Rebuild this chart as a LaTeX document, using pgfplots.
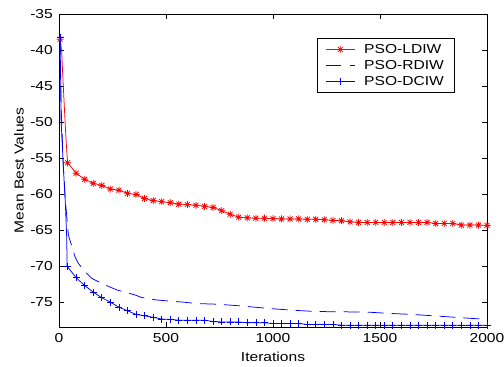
\documentclass[border=0pt]{standalone}
\usepackage{fontspec}
\setmainfont{Liberation Sans}[FakeStretch=1.2]
\usepackage{pgfplots}
\usepackage{pgfplotstable}
\pgfplotsset{compat=1.18}
\pgfdeclareplotmark{mstar}{%
  \pgfpathmoveto{\pgfqpoint{-\pgfplotmarksize}{0pt}}\pgfpathlineto{\pgfqpoint{\pgfplotmarksize}{0pt}}%
  \pgfpathmoveto{\pgfqpoint{0pt}{-\pgfplotmarksize}}\pgfpathlineto{\pgfqpoint{0pt}{\pgfplotmarksize}}%
  \pgfpathmoveto{\pgfqpoint{-0.707\pgfplotmarksize}{-0.707\pgfplotmarksize}}\pgfpathlineto{\pgfqpoint{0.707\pgfplotmarksize}{0.707\pgfplotmarksize}}%
  \pgfpathmoveto{\pgfqpoint{-0.707\pgfplotmarksize}{0.707\pgfplotmarksize}}\pgfpathlineto{\pgfqpoint{0.707\pgfplotmarksize}{-0.707\pgfplotmarksize}}%
  \pgfusepathqstroke}
\pgfplotstableread{
it val
40 -55.65
80 -57.1
120 -57.95
160 -58.5
200 -58.8
240 -59.3
280 -59.45
320 -59.9
360 -60.05
400 -60.6
440 -60.9
480 -61.05
520 -61.2
560 -61.4
600 -61.45
640 -61.55
680 -61.7
720 -61.85
760 -62.3
800 -62.8
840 -63.2
880 -63.3
920 -63.35
960 -63.35
1000 -63.4
1040 -63.45
1080 -63.45
1120 -63.45
1160 -63.5
1200 -63.5
1240 -63.55
1280 -63.65
1320 -63.7
1360 -63.85
1400 -63.93
1440 -63.93
1480 -63.93
1520 -63.93
1560 -63.93
1600 -63.93
1640 -63.93
1680 -63.93
1720 -63.93
1760 -64.07
1800 -64.07
1840 -64.07
1880 -64.3
1920 -64.3
1960 -64.3
2000 -64.35
}\ldiw
\pgfplotstableread{
it val
40 -70.1
80 -71.6
120 -72.7
160 -73.6
200 -74.4
240 -75.0
280 -75.7
320 -76.2
360 -76.7
400 -76.9
440 -77.1
480 -77.35
520 -77.4
560 -77.5
600 -77.5
640 -77.5
680 -77.5
720 -77.7
760 -77.75
800 -77.75
840 -77.75
880 -77.87
920 -77.87
960 -77.87
1000 -77.96
1040 -77.96
1080 -77.96
1120 -77.96
1160 -78.1
1200 -78.1
1240 -78.1
1280 -78.1
1320 -78.2
1360 -78.2
1400 -78.2
1440 -78.2
1480 -78.2
1520 -78.2
1560 -78.2
1600 -78.2
1640 -78.2
1680 -78.2
1720 -78.2
1760 -78.2
1800 -78.2
1840 -78.2
1880 -78.2
1920 -78.2
1960 -78.2
2000 -78.2
}\dciw
\pgfplotstableread{
it val
5 -38.3
10 -48
20 -56
30 -61
44 -65.7
75 -68.7
90 -69.6
129 -71.0
153 -71.7
200 -72.4
238 -72.9
270 -73.3
355 -74.0
386 -74.35
457 -74.7
495 -74.8
580 -75.0
650 -75.2
750 -75.3
860 -75.55
970 -75.85
1080 -76.1
1200 -76.3
1350 -76.35
1450 -76.4
1550 -76.57
1650 -76.7
1750 -76.9
1850 -77.1
1950 -77.3
2000 -77.36
}\rdiw
\begin{document}
\begin{tikzpicture}
\begin{axis}[
  name=ax, scale only axis, width=428bp, height=313bp,
  xmin=0, xmax=2000, ymin=-78.45, ymax=-35,
  clip=false,
  font=\fontsize{13bp}{15bp}\selectfont,
  tick align=inside, major tick length=5bp,
  tick style={black, line width=0.75bp},
  axis line style={black, line width=0.75bp},
  xtick={0,500,1000,1500,2000}, xticklabels={0,500,1000,1500,2000},
  ytick={-75,-70,-65,-60,-55,-50,-45,-40,-35},
  yticklabels={-75,-70,-65,-60,-55,-50,-45,-40,-35},
  xticklabel style={inner sep=0pt, anchor=north, yshift=-6bp},
  yticklabel style={inner sep=0pt, anchor=east, xshift=-6bp},
  xlabel={Iterations}, ylabel={Mean Best Values},
  xlabel style={at={(axis description cs:0.5,-0.096)}, anchor=center, inner sep=0pt},
  ylabel style={at={(axis description cs:-0.0935,0.5)}, anchor=center, inner sep=0pt},
  legend image code/.code={\draw[mark repeat=2,mark phase=2,#1] plot coordinates {(0bp,0bp)(14.5bp,0bp)(29bp,0bp)};},
  legend style={at={(axis description cs:0.603,0.923)}, anchor=north west,
    draw=black, line width=0.75bp, inner xsep=8bp, inner ysep=3bp,
    font=\fontsize{13bp}{15bp}\selectfont,
    nodes={inner sep=0pt, minimum height=16bp},
    /tikz/every odd column/.append style={column sep=9bp}},
  legend cell align=left,
]
% LDIW
\addplot[red, line width=0.75bp, forget plot] coordinates {(5,-38.5)(12,-40)(20,-45)(28,-49.7)(33,-52.5)(40,-55.65)};
\addplot[red, line width=0.75bp, forget plot] table[x=it,y=val]{\ldiw};
\addplot[red, line width=0.75bp, only marks, mark=mstar, mark size=3.5bp, forget plot] table[x=it,y=val]{\ldiw};
\addplot[red, line width=0.75bp, only marks, mark=mstar, mark size=3.5bp, forget plot] coordinates {(5,-38.5)};
% RDIW
\addplot[blue, line width=0.75bp, dash pattern=on 16bp off 8bp, forget plot] table[x=it,y=val]{\rdiw};
% DCIW
\addplot[blue, line width=0.75bp, forget plot] coordinates {(5,-38.2)(8,-45)(10,-50)(20,-56)(30,-61.5)(36,-66)(38,-70.1)(40,-70.1)};
\addplot[blue, line width=0.75bp, forget plot] table[x=it,y=val]{\dciw};
\addplot[blue, line width=0.75bp, only marks, mark=+, mark size=3.5bp, forget plot] table[x=it,y=val]{\dciw};
\addplot[blue, line width=0.75bp, only marks, mark=+, mark size=3.5bp, forget plot] coordinates {(5,-38.2)};
\addlegendimage{red, line width=0.75bp, mark=mstar, mark size=3.5bp}
\addlegendentry[text width=82bp, align=left]{PSO-LDIW}
\addlegendimage{blue, line width=0.75bp, dash pattern=on 15bp off 9bp}
\addlegendentry[text width=82bp, align=left]{PSO-RDIW}
\addlegendimage{blue, line width=0.75bp, mark=+, mark size=3.5bp}
\addlegendentry[text width=82bp, align=left]{PSO-DCIW}
\end{axis}
\pgfresetboundingbox
\path ([xshift=-59bp,yshift=-40bp]ax.south west) rectangle ([xshift=17bp,yshift=14bp]ax.north east);
\end{tikzpicture}
\end{document}
